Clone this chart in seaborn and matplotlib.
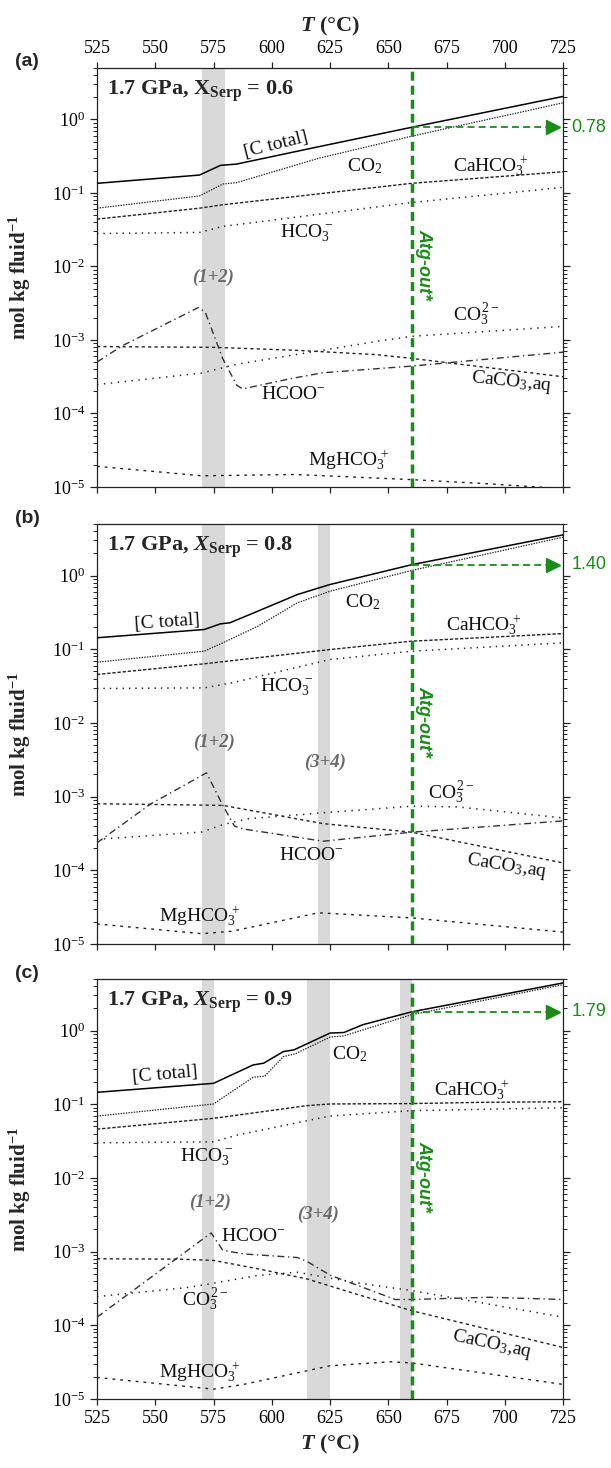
import matplotlib
matplotlib.use("Agg")
import matplotlib.pyplot as plt
import matplotlib.transforms as mtransforms
from matplotlib.ticker import LogLocator, NullFormatter, FixedLocator
import seaborn as sns

# ---------------------------------------------------------------- data
# Temperature (deg C) / molality (mol kg fluid^-1) for each species.
# Panel (a): X_Serp = 0.6
a_ctot_T = [525, 569, 578, 585, 620, 660, 725]
a_ctot = [0.135, 0.175, 0.237, 0.247, 0.424, 0.78, 2.05]
a_co2_T = [525, 569, 579, 585, 620, 660, 725]
a_co2 = [0.062, 0.091, 0.132, 0.138, 0.295, 0.59, 1.68]
a_cahco3_T = [525, 569, 579, 660, 725]
a_cahco3 = [0.044, 0.062, 0.069, 0.135, 0.194]
a_hco3_T = [525, 569, 579, 660, 725]
a_hco3 = [0.028, 0.029, 0.035, 0.074, 0.119]
a_hcoo_T = [525, 536, 568.6, 571.5, 579, 585, 587.5, 608, 622, 660, 725]
a_hcoo = [5.01e-4, 8.38e-4, 2.77e-3, 2.37e-3, 5.53e-4, 2.42e-4, 2.16e-4,
          2.97e-4, 3.58e-4, 4.41e-4, 6.82e-4]
a_caco3_T = [525, 575, 610, 645, 660, 725]
a_caco3 = [8.13e-4, 7.94e-4, 7.24e-4, 6.31e-4, 5.62e-4, 3.16e-4]
a_co3_T = [525, 570, 585, 647, 660, 725]
a_co3 = [2.47e-4, 3.55e-4, 4.68e-4, 9.77e-4, 1.12e-3, 1.53e-3]
a_mghco3_T = [525, 570, 610, 660, 690, 725]
a_mghco3 = [1.91e-5, 1.42e-5, 1.48e-5, 1.26e-5, 1.12e-5, 9.5e-6]

# Panel (b): X_Serp = 0.8
b_ctot_T = [525, 571, 578, 582, 594, 611, 625, 660, 725]
b_ctot = [0.143, 0.185, 0.221, 0.228, 0.328, 0.552, 0.755, 1.40, 3.56]
b_co2_T = [525, 571, 579, 594, 611, 625, 660, 725]
b_co2 = [0.0667, 0.094, 0.122, 0.205, 0.426, 0.612, 1.17, 3.31]
b_cahco3_T = [525, 571, 625, 660, 725]
b_cahco3 = [0.0454, 0.0634, 0.099, 0.1285, 0.163]
b_hco3_T = [525, 571, 583, 625, 660, 725]
b_hco3 = [0.0293, 0.0299, 0.035, 0.0724, 0.094, 0.122]
b_hcoo_T = [525, 548, 572, 579, 584, 588, 622, 660, 725]
b_hcoo = [2.36e-4, 7.94e-4, 2.10e-3, 7.59e-4, 3.98e-4, 3.63e-4, 2.48e-4,
          3.29e-4, 4.68e-4]
b_caco3_T = [525, 579, 622, 660, 725]
b_caco3 = [8.0e-4, 7.6e-4, 4.3e-4, 3.29e-4, 1.26e-4]
b_co3_T = [525, 570, 579, 590, 622, 660, 680, 725]
b_co3 = [2.63e-4, 3.31e-4, 4.17e-4, 5.01e-4, 6.03e-4, 7.41e-4, 7.24e-4, 5.13e-4]
b_mghco3_T = [525, 570, 583, 620, 660, 725]
b_mghco3 = [1.87e-5, 1.38e-5, 1.49e-5, 2.65e-5, 2.26e-5, 1.45e-5]

# Panel (c): X_Serp = 0.9
c_ctot_T = [525, 575, 592, 596.5, 605, 609.5, 625, 631, 639, 660, 725]
c_ctot = [0.145, 0.192, 0.341, 0.36, 0.518, 0.546, 0.923, 0.94, 1.197, 1.79, 4.42]
c_co2_T = [525, 575, 592, 597, 605, 610, 625, 631, 660, 725]
c_co2 = [0.069, 0.1007, 0.232, 0.240, 0.443, 0.482, 0.813, 0.847, 1.64, 4.19]
c_cahco3_T = [525, 575, 615, 625, 660, 690, 725]
c_cahco3 = [0.0459, 0.0643, 0.0955, 0.1007, 0.102, 0.106, 0.108]
c_hco3_T = [525, 575, 585, 625, 660, 725]
c_hco3 = [0.0299, 0.0309, 0.038, 0.0692, 0.0817, 0.0895]
c_hcoo_T = [525, 574, 579, 588, 611, 615, 625, 653, 660, 693, 725]
c_hcoo = [1.29e-4, 1.79e-3, 1.04e-3, 9.3e-4, 8.3e-4, 7.4e-4, 4.8e-4, 2.24e-4,
          2.24e-4, 2.4e-4, 2.24e-4]
c_caco3_T = [525, 560, 575, 594, 615, 636, 660, 725]
c_caco3 = [8.0e-4, 7.9e-4, 7.6e-4, 5.85e-4, 4.27e-4, 2.67e-4, 1.58e-4, 5.0e-5]
c_co3_T = [525, 565, 594, 611, 625, 640, 660, 725]
c_co3 = [2.45e-4, 3.29e-4, 4.74e-4, 5.25e-4, 4.37e-4, 3.63e-4, 2.96e-4, 1.29e-4]
c_mghco3_T = [525, 575, 588, 625, 651, 660, 725]
c_mghco3 = [1.96e-5, 1.36e-5, 1.58e-5, 2.82e-5, 3.2e-5, 3.09e-5, 1.58e-5]

# reaction intervals (shaded) and their tags
a_bands = [(570, 580)]
b_bands = [(570, 580), (620, 625)]
c_bands = [(570, 575), (615, 625), (655, 660)]
a_band_tags = ["(1+2)"]
b_band_tags = ["(1+2)", "(3+4)"]
c_band_tags = ["(1+2)", "(3+4)"]

atg_out_T = 660
x_serp = ["0.6", "0.8", "0.9"]
panel_letters = ["(a)", "(b)", "(c)"]
x_ticks = [525, 550, 575, 600, 625, 650, 675, 700, 725]

# ---------------------------------------------------------------- style
sns.set_style("ticks")
plt.rcParams.update({
    "font.family": ["Liberation Serif", "DejaVu Serif"],
    "mathtext.fontset": "custom",
    "mathtext.rm": "Liberation Serif",
    "mathtext.it": "Liberation Serif:italic",
    "mathtext.bf": "Liberation Serif:bold",
    "lines.scale_dashes": False,
    "axes.edgecolor": "#222222",
    "axes.linewidth": 0.9,
    "xtick.color": "#222222",
    "ytick.color": "#222222",
    "xtick.labelcolor": "black",
    "ytick.labelcolor": "black",
})
try:
    plt.rcParams["mathtext.bfit"] = "Liberation Serif:italic:bold"
except KeyError:
    pass

GREEN = "#1a8c1a"
BAND = "#d9d9d9"
TAG = "#6a6a6a"

styles = {
    "ctot": dict(color="black", lw=1.1, ls="-"),
    "co2": dict(color="#222222", lw=0.9, ls=(0, (1.0, 0.9))),
    "cahco3": dict(color="#222222", lw=1.0, ls=(0, (2.4, 1.3))),
    "hco3": dict(color="#222222", lw=1.1, ls=(0, (1.0, 3.6))),
    "hcoo": dict(color="#333333", lw=1.0, ls=(0, (5.0, 2.6, 1.0, 2.6))),
    "caco3": dict(color="#222222", lw=1.0, ls=(0, (2.3, 2.3))),
    "co3": dict(color="#222222", lw=1.1, ls=(0, (1.0, 4.0))),
    "mghco3": dict(color="#222222", lw=1.0, ls=(0, (2.0, 3.6))),
}

names = {
    "ctot": "[C total]",
    "co2": r"CO$_2$",
    "cahco3": r"CaHCO$_3^{\,+}$",
    "hco3": r"HCO$_3^{\,-}$",
    "hcoo": r"HCOO$^{-}$",
    "caco3": r"CaCO$_3$,aq",
    "co3": r"CO$_3^{\,2-}$",
    "mghco3": r"MgHCO$_3^{\,+}$",
}

panels = [
    dict(series={"ctot": (a_ctot_T, a_ctot), "co2": (a_co2_T, a_co2),
                 "cahco3": (a_cahco3_T, a_cahco3), "hco3": (a_hco3_T, a_hco3),
                 "hcoo": (a_hcoo_T, a_hcoo), "caco3": (a_caco3_T, a_caco3),
                 "co3": (a_co3_T, a_co3), "mghco3": (a_mghco3_T, a_mghco3)},
         bands=a_bands, tags=a_band_tags,
         tag_pos=[(575, 7.0e-3)],
         labels={"ctot": (602, 0.45, 14), "co2": (640, 0.23, 0),
                 "cahco3": (694, 0.23, 0), "hco3": (615, 0.0285, 0),
                 "hcoo": (609, 1.8e-4, 0), "caco3": (703, 2.7e-4, -6),
                 "co3": (688, 2.2e-3, 0), "mghco3": (633, 2.3e-5, 0)},
         italic_x=False),
    dict(series={"ctot": (b_ctot_T, b_ctot), "co2": (b_co2_T, b_co2),
                 "cahco3": (b_cahco3_T, b_cahco3), "hco3": (b_hco3_T, b_hco3),
                 "hcoo": (b_hcoo_T, b_hcoo), "caco3": (b_caco3_T, b_caco3),
                 "co3": (b_co3_T, b_co3), "mghco3": (b_mghco3_T, b_mghco3)},
         bands=b_bands, tags=b_band_tags,
         tag_pos=[(575.3, 5.4e-3), (622.7, 2.9e-3)],
         labels={"ctot": (555, 0.235, 4), "co2": (639, 0.43, 0),
                 "cahco3": (691, 0.216, 0), "hco3": (606.5, 0.030, 0),
                 "hcoo": (617, 1.6e-4, 0), "caco3": (701, 1.15e-4, -9),
                 "co3": (677, 1.13e-3, 0), "mghco3": (569, 2.4e-5, 0)},
         italic_x=True),
    dict(series={"ctot": (c_ctot_T, c_ctot), "co2": (c_co2_T, c_co2),
                 "cahco3": (c_cahco3_T, c_cahco3), "hco3": (c_hco3_T, c_hco3),
                 "hcoo": (c_hcoo_T, c_hcoo), "caco3": (c_caco3_T, c_caco3),
                 "co3": (c_co3_T, c_co3), "mghco3": (c_mghco3_T, c_mghco3)},
         bands=c_bands, tags=c_band_tags,
         tag_pos=[(573.6, 4.7e-3), (620, 3.2e-3)],
         labels={"ctot": (554, 0.25, 5), "co2": (633.4, 0.48, 0),
                 "cahco3": (686, 0.156, 0), "hco3": (572, 0.0193, 0),
                 "hcoo": (592, 1.58e-3, 0), "caco3": (694.5, 5.6e-5, -12),
                 "co3": (571.5, 2.2e-4, 0), "mghco3": (569, 2.3e-5, 0)},
         italic_x=True),
]

# ---------------------------------------------------------------- figure
W, H = 611, 1468
fig = plt.figure(figsize=(W / 100, H / 100), dpi=100)
left_px, right_px = 97, 563
tops = [68, 524, 979]
bottoms = [487, 944, 1399]

for i, p in enumerate(panels):
    ax = fig.add_axes([left_px / W, (H - bottoms[i]) / H,
                       (right_px - left_px) / W, (bottoms[i] - tops[i]) / H])
    ax.set_yscale("log")
    ax.set_xlim(525, 725)
    ax.set_ylim(1e-5, 5)

    for (t0, t1) in p["bands"]:
        ax.axvspan(t0, t1, color=BAND, lw=0, zorder=0)
    for tag, (tx, ty) in zip(p["tags"], p["tag_pos"]):
        ax.text(tx, ty, tag, color=TAG, fontsize=13.5, fontweight="bold",
                fontstyle="italic", ha="center", va="center", zorder=3)

    for key, (tt, vv) in p["series"].items():
        st = styles[key]
        sns.lineplot(x=tt, y=vv, ax=ax, color=st["color"], lw=st["lw"],
                     linestyle=st["ls"], estimator=None, sort=False, zorder=4)
        lx, ly, rot = p["labels"][key]
        ax.text(lx, ly, names[key], fontsize=14, rotation=rot,
                rotation_mode="anchor" if rot else "default",
                ha="center", va="center", color="#111111", zorder=5)

    # antigorite-out line
    vl = ax.axvline(atg_out_T, color=GREEN, lw=2.5, zorder=6)
    vl.set_dashes((6.5, 3.6))
    ax.text(atg_out_T + 5.5, 1.05e-2, "Atg-out*", rotation=270,
            ha="center", va="center", color=GREEN, fontsize=13,
            fontweight="bold", fontstyle="italic",
            family=["Liberation Sans", "DejaVu Sans"], zorder=6)

    # total carbon at antigorite-out
    ctot_T, ctot_v = p["series"]["ctot"]
    c_at = ctot_v[ctot_T.index(atg_out_T)]
    ax.plot([atg_out_T, 719], [c_at, c_at], color=GREEN, lw=1.3,
            dashes=(5, 3), zorder=6)
    ax.plot([720.5], [c_at], marker=">", ms=9.5, color=GREEN, mec=GREEN,
            zorder=6, clip_on=False)
    trans = mtransforms.blended_transform_factory(ax.transAxes, ax.transData)
    ax.text(1.018, c_at, f"{c_at:.2f}", transform=trans, color=GREEN,
            fontsize=13, ha="left", va="center",
            family=["Liberation Sans", "DejaVu Sans"])

    # panel heading
    xsym = r"$\mathbfit{X}_{\mathbf{Serp}}$" if p["italic_x"] else r"X$_{\mathbf{Serp}}$"
    ax.text(0.022, 0.944, f"1.7 GPa, {xsym} = {x_serp[i]}",
            transform=ax.transAxes, fontsize=16, fontweight="bold",
            ha="left", va="center")
    fig.text(27 / W, 1 - (tops[i] - 6) / H, panel_letters[i], fontsize=14,
             fontweight="bold", family=["Liberation Sans", "DejaVu Sans"],
             ha="center", va="center")

    # axes
    ax.set_ylabel(r"mol kg fluid$^{\mathbf{-1}}$", fontsize=15,
                  fontweight="bold")
    ax.yaxis.set_label_coords(-0.137, 0.5)
    ax.yaxis.set_major_locator(LogLocator(base=10, numticks=10))
    ax.yaxis.set_minor_locator(LogLocator(base=10, subs=range(2, 10), numticks=20))
    ax.yaxis.set_minor_formatter(NullFormatter())
    ax.tick_params(axis="y", which="major", direction="out", length=5,
                   width=0.9, left=True, right=True, labelsize=13)
    ax.tick_params(axis="y", which="minor", direction="out", length=3,
                   width=0.7, left=True, right=True)
    ax.xaxis.set_major_locator(FixedLocator(x_ticks))
    ax.tick_params(axis="x", direction="out", length=4.5, width=0.9,
                   labelsize=13, bottom=True, top=(i == 0),
                   labelbottom=(i == 2), labeltop=(i == 0))
    ax.set_xlabel("")
    if i == 0:
        ax.xaxis.set_label_position("top")
        ax.set_xlabel(r"$\mathbfit{T}$ (°C)", fontsize=16, fontweight="bold",
                      labelpad=6)
    if i == 2:
        ax.set_xlabel(r"$\mathbfit{T}$ (°C)", fontsize=16, fontweight="bold",
                      labelpad=4)
    for s in ax.spines.values():
        s.set_visible(True)

fig.savefig("out.png", dpi=100)
